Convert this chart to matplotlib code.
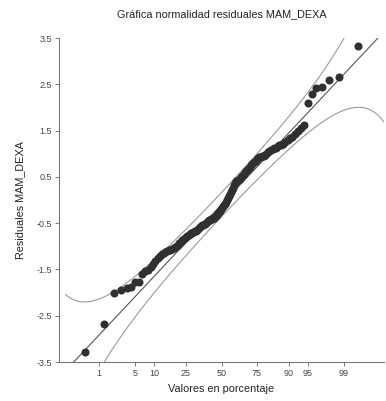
import numpy as np
import matplotlib
matplotlib.use("Agg")
import matplotlib.pyplot as plt
from statistics import NormalDist

# residuals, sorted
residuals = [
    -3.28, -2.67, -2.02, -1.94, -1.91, -1.89, -1.78, -1.77, -1.59, -1.53,
    -1.51, -1.44, -1.38, -1.32, -1.25, -1.20, -1.17, -1.14, -1.12, -1.11,
    -1.09, -1.07, -1.06, -1.04, -1.02, -0.99, -0.97, -0.93, -0.90, -0.87,
    -0.85, -0.82, -0.80, -0.78, -0.76, -0.73, -0.72, -0.71, -0.69, -0.68,
    -0.66, -0.64, -0.62, -0.60, -0.58, -0.57, -0.55, -0.53, -0.51, -0.49,
    -0.47, -0.46, -0.44, -0.43, -0.42, -0.40, -0.39, -0.38, -0.37, -0.35,
    -0.32, -0.29, -0.26, -0.23, -0.19, -0.17, -0.14, -0.11, -0.08, -0.04,
    0.00, 0.04, 0.08, 0.12, 0.17, 0.22, 0.26, 0.32, 0.37, 0.40,
    0.42, 0.44, 0.46, 0.50, 0.52, 0.54, 0.57, 0.61, 0.63, 0.65,
    0.68, 0.71, 0.75, 0.77, 0.79, 0.82, 0.85, 0.88, 0.90, 0.92,
    0.93, 0.94, 0.96, 0.98, 1.00, 1.03, 1.05, 1.08, 1.10, 1.12,
    1.13, 1.16, 1.18, 1.19, 1.22, 1.26, 1.30, 1.33, 1.37, 1.43,
    1.48, 1.55, 1.62, 2.09, 2.29, 2.43, 2.45, 2.59, 2.66, 3.33,
]
# reference line (location, scale) as drawn in the chart
line_mean = -0.10
line_sd = 1.21
pct_ticks = [1, 5, 10, 25, 50, 75, 90, 95, 99]
y_ticks = [3.5, 2.5, 1.5, 0.5, -0.5, -1.5, -2.5, -3.5]

nd = NormalDist()
y = np.sort(np.array(residuals))
n = len(y)
# Blom plotting positions
p = (np.arange(1, n + 1) - 0.375) / (n + 0.25)
z = np.array([nd.inv_cdf(v) for v in p])

# 95% pointwise band around the reference line
zz = np.linspace(nd.inv_cdf(0.0015), nd.inv_cdf(0.999), 300)
pp = np.array([nd.cdf(v) for v in zz])
dens = np.array([nd.pdf(v) for v in zz])
fit = line_mean + line_sd * zz
half = 1.96 * line_sd * np.sqrt(pp * (1 - pp) / n) / dens

fig = plt.figure(figsize=(3.86, 4.01), dpi=100)
ax = fig.add_axes([59 / 386, 39 / 401, 325 / 386, 324 / 401])

ax.plot(zz, fit + half, color="#9a9a9a", lw=0.8)
ax.plot(zz, fit - half, color="#9a9a9a", lw=0.8)
ax.plot(zz, fit, color="#555555", lw=0.8)
ax.plot(z, y, "o", color="#303030", ms=5.8, mec="none")

zmax = nd.inv_cdf(0.999)
ax.set_xlim(-zmax, zmax)
ax.set_ylim(-3.5, 3.5)
ax.set_xticks([nd.inv_cdf(v / 100) for v in pct_ticks])
ax.set_xticklabels([str(v) for v in pct_ticks])
ax.set_yticks(y_ticks)
ax.set_yticklabels([str(v) for v in y_ticks])

for s in ["top", "right"]:
    ax.spines[s].set_visible(False)
for s in ["left", "bottom"]:
    ax.spines[s].set_color("#777777")
    ax.spines[s].set_linewidth(0.8)
ax.tick_params(length=3, width=0.7, color="#777777", labelsize=6.5,
               labelcolor="#444444", pad=2)

fig.text(221.5 / 386, 1 - 14 / 401, "Gráfica normalidad residuales MAM_DEXA",
         ha="center", va="center", fontsize=7.8, family="Liberation Sans",
         color="#222222")
fig.text(221.5 / 386, 12 / 401, "Valores en porcentaje", ha="center",
         va="center", fontsize=7.8, family="Liberation Sans", color="#222222")
fig.text(20 / 386, 1 - 200 / 401, "Residuales MAM_DEXA", ha="center",
         va="center", rotation=90, fontsize=7.8, family="Liberation Sans",
         color="#222222")
for lbl in ax.get_xticklabels() + ax.get_yticklabels():
    lbl.set_family("Liberation Sans")

fig.savefig("out.png", dpi=100)
